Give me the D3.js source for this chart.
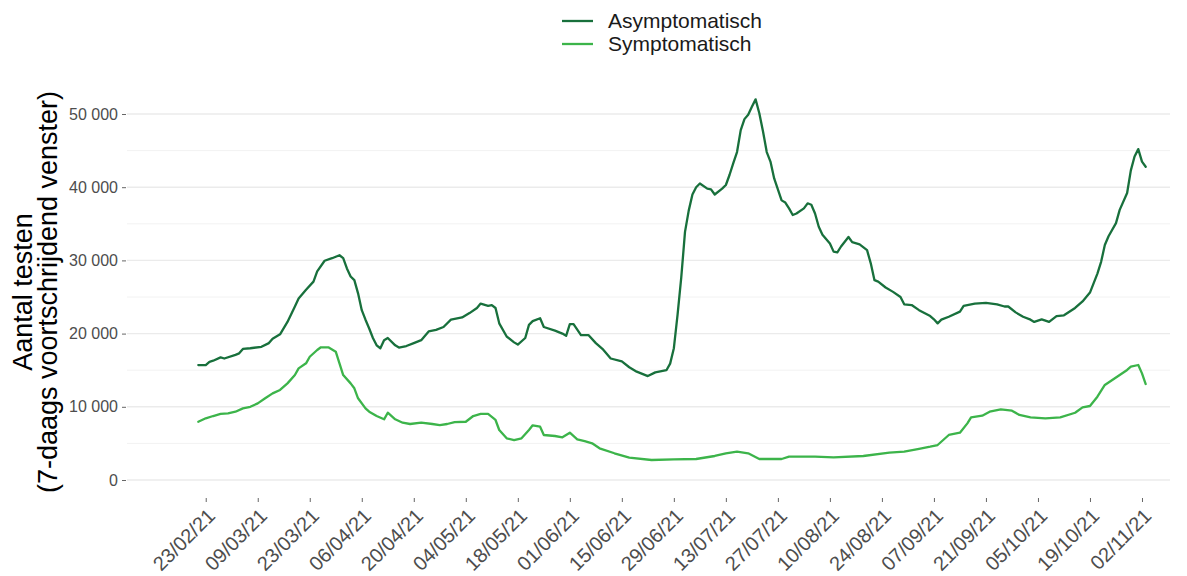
<!DOCTYPE html>
<html>
<head>
<meta charset="utf-8">
<script src="https://cdn.jsdelivr.net/npm/d3@7"></script>
<style>
  html, body { margin: 0; padding: 0; background: #fff; }
  svg { display: block; font-family: "Liberation Sans", Arial, sans-serif; }
</style>
</head>
<body>
<svg id="chart" width="1187" height="576"></svg>
<script>
// ---- data ----
const seriesNames = ["Asymptomatisch", "Symptomatisch"];
const seriesColors = ["#18703c", "#3cb44a"];

const asymDates = [
  "2021-02-21","2021-02-23","2021-02-24","2021-02-25","2021-02-27","2021-02-28","2021-03-03","2021-03-04","2021-03-05","2021-03-07",
  "2021-03-10","2021-03-12","2021-03-13","2021-03-15","2021-03-17","2021-03-19","2021-03-20","2021-03-22","2021-03-24","2021-03-25",
  "2021-03-27","2021-03-29","2021-03-31","2021-04-01","2021-04-02","2021-04-03","2021-04-04","2021-04-05","2021-04-06","2021-04-07",
  "2021-04-08","2021-04-09","2021-04-10","2021-04-11","2021-04-12","2021-04-13","2021-04-15","2021-04-16","2021-04-18","2021-04-20",
  "2021-04-22","2021-04-24","2021-04-26","2021-04-28","2021-04-30","2021-05-03","2021-05-05","2021-05-07","2021-05-08","2021-05-10",
  "2021-05-11","2021-05-12","2021-05-13","2021-05-15","2021-05-17","2021-05-18","2021-05-20","2021-05-21","2021-05-22","2021-05-24",
  "2021-05-25","2021-05-28","2021-05-30","2021-05-31","2021-06-01","2021-06-02","2021-06-04","2021-06-06","2021-06-08","2021-06-10",
  "2021-06-12","2021-06-15","2021-06-17","2021-06-19","2021-06-20","2021-06-22","2021-06-24","2021-06-27","2021-06-28","2021-06-29",
  "2021-06-30","2021-07-01","2021-07-02","2021-07-03","2021-07-04","2021-07-05","2021-07-06","2021-07-08","2021-07-09","2021-07-10",
  "2021-07-12","2021-07-13","2021-07-14","2021-07-15","2021-07-16","2021-07-17","2021-07-18","2021-07-19","2021-07-20","2021-07-21",
  "2021-07-22","2021-07-23","2021-07-24","2021-07-25","2021-07-26","2021-07-28","2021-07-29","2021-07-30","2021-07-31","2021-08-01",
  "2021-08-03","2021-08-04","2021-08-05","2021-08-06","2021-08-07","2021-08-08","2021-08-10","2021-08-11","2021-08-12","2021-08-13",
  "2021-08-15","2021-08-16","2021-08-18","2021-08-20","2021-08-21","2021-08-22","2021-08-23","2021-08-25","2021-08-27","2021-08-29",
  "2021-08-30","2021-09-01","2021-09-03","2021-09-06","2021-09-07","2021-09-08","2021-09-09","2021-09-11","2021-09-14","2021-09-15",
  "2021-09-18","2021-09-21","2021-09-24","2021-09-26","2021-09-27","2021-09-29","2021-10-01","2021-10-03","2021-10-04","2021-10-06",
  "2021-10-08","2021-10-10","2021-10-12","2021-10-15","2021-10-17","2021-10-19","2021-10-21","2021-10-22","2021-10-23","2021-10-24",
  "2021-10-26","2021-10-27","2021-10-29","2021-10-30","2021-10-31","2021-11-01","2021-11-02","2021-11-03"
];
const asymValues = [
  15700,15700,16150,16300,16750,16600,17100,17300,17900,18000,
  18200,18700,19300,19900,21600,23700,24800,26000,27100,28500,
  29950,30300,30700,30300,28900,27800,27300,25500,23200,21900,
  20700,19400,18400,18000,19100,19400,18400,18100,18300,18700,
  19100,20300,20500,20900,21900,22200,22800,23500,24100,23800,
  23900,23500,21400,19600,18800,18500,19400,21200,21700,22100,
  20900,20400,20000,19700,21300,21300,19800,19800,18700,17800,
  16600,16200,15400,14800,14600,14200,14700,15000,15900,18000,
  22600,27700,33900,36800,39000,40000,40500,39800,39700,39000,
  39800,40300,41700,43300,44800,47800,49300,49900,51000,52000,
  50100,47600,44800,43500,41200,38200,37900,37100,36200,36400,
  37100,37800,37600,36400,34600,33500,32300,31200,31100,31900,
  33200,32500,32200,31400,29600,27300,27100,26300,25700,25000,
  24000,23900,23200,22400,21950,21400,21900,22300,23000,23800,
  24100,24200,24000,23700,23700,22900,22300,21900,21600,21950,
  21600,22400,22500,23500,24400,25600,28200,29800,32100,33300,
  35100,36900,39200,42300,44200,45200,43500,42800
];

const sympDates = [
  "2021-02-21","2021-02-23","2021-02-25","2021-02-27","2021-03-01","2021-03-03","2021-03-05","2021-03-07","2021-03-09","2021-03-11",
  "2021-03-13","2021-03-15","2021-03-17","2021-03-19","2021-03-20","2021-03-22","2021-03-23","2021-03-25","2021-03-26","2021-03-28",
  "2021-03-30","2021-03-31","2021-04-01","2021-04-03","2021-04-04","2021-04-05","2021-04-07","2021-04-08","2021-04-10","2021-04-12",
  "2021-04-13","2021-04-15","2021-04-17","2021-04-19","2021-04-22","2021-04-25","2021-04-27","2021-04-29","2021-05-01","2021-05-04",
  "2021-05-06","2021-05-08","2021-05-10","2021-05-12","2021-05-13","2021-05-15","2021-05-17","2021-05-19","2021-05-21","2021-05-22",
  "2021-05-24","2021-05-25","2021-05-28","2021-05-30","2021-06-01","2021-06-03","2021-06-05","2021-06-07","2021-06-09","2021-06-13",
  "2021-06-17","2021-06-23","2021-06-29","2021-07-05","2021-07-10","2021-07-13","2021-07-16","2021-07-19","2021-07-22","2021-07-28",
  "2021-07-30","2021-08-06","2021-08-11","2021-08-19","2021-08-26","2021-08-30","2021-09-03","2021-09-06","2021-09-08","2021-09-11",
  "2021-09-14","2021-09-16","2021-09-17","2021-09-20","2021-09-22","2021-09-25","2021-09-28","2021-09-30","2021-10-03","2021-10-07",
  "2021-10-11","2021-10-15","2021-10-17","2021-10-19","2021-10-21","2021-10-23","2021-10-25","2021-10-27","2021-10-29","2021-10-30",
  "2021-11-01","2021-11-02","2021-11-03"
];
const sympValues = [
  7960,8430,8740,9020,9110,9330,9790,10000,10470,11160,
  11840,12300,13200,14340,15250,15940,16840,17760,18130,18130,
  17530,15940,14340,13200,12530,11160,9790,9330,8740,8290,
  9190,8290,7830,7650,7830,7650,7510,7650,7920,7960,
  8740,9020,9020,8200,6830,5690,5460,5690,6830,7470,
  7280,6150,6010,5830,6460,5560,5300,5010,4330,3650,
  3050,2730,2820,2870,3280,3650,3870,3650,2870,2870,
  3180,3180,3100,3280,3730,3870,4250,4550,4780,6150,
  6460,7740,8560,8790,9330,9650,9470,8880,8560,8430,
  8560,9190,9930,10110,11380,12980,13660,14340,15030,15480,
  15710,14570,13110
];

const xTickDates = [
  "2021-02-23","2021-03-09","2021-03-23","2021-04-06","2021-04-20","2021-05-04","2021-05-18","2021-06-01","2021-06-15","2021-06-29",
  "2021-07-13","2021-07-27","2021-08-10","2021-08-24","2021-09-07","2021-09-21","2021-10-05","2021-10-19","2021-11-02"
];
const yTickValues = [0, 10000, 20000, 30000, 40000, 50000];
const yMinorValues = [5000, 15000, 25000, 35000, 45000];
const yTitleLines = ["Aantal testen", "(7-daags voortschrijdend venster)"];

// ---- setup ----
const parse = d3.timeParse("%Y-%m-%d");
const fmtTick = d3.timeFormat("%d/%m/%y");
const locale = d3.formatLocale({ decimal: ",", thousands: " ", grouping: [3], currency: ["", ""] });
const fmtY = locale.format(",");

const series = [
  { name: seriesNames[0], color: seriesColors[0], points: asymDates.map((d, i) => ({ date: parse(d), value: asymValues[i] })) },
  { name: seriesNames[1], color: seriesColors[1], points: sympDates.map((d, i) => ({ date: parse(d), value: sympValues[i] })) }
];

const panel = { left: 127, right: 1170, top: 80, bottom: 499 };

const allDates = series.flatMap(s => s.points.map(p => p.date));
const x = d3.scaleTime().domain(d3.extent(allDates)).range([198.3, 1145.7]);
const y = d3.scaleLinear().domain([0, 50000]).range([480, 114]);

const svg = d3.select("#chart");

// gridlines
const grid = svg.append("g");
grid.selectAll("line.minor").data(yMinorValues).join("line")
  .attr("class", "minor")
  .attr("x1", panel.left).attr("x2", panel.right)
  .attr("y1", d => y(d)).attr("y2", d => y(d))
  .attr("stroke", "#f2f2f2").attr("stroke-width", 1);
grid.selectAll("line.major").data(yTickValues).join("line")
  .attr("class", "major")
  .attr("x1", panel.left).attr("x2", panel.right)
  .attr("y1", d => y(d)).attr("y2", d => y(d))
  .attr("stroke", "#ebebeb").attr("stroke-width", 1.4);

// y axis
const yAxis = d3.axisLeft(y).tickValues(yTickValues).tickFormat(fmtY).tickSize(4).tickPadding(4);
const gy = svg.append("g").attr("transform", `translate(${panel.left - 1},0)`).call(yAxis);
gy.select(".domain").remove();
gy.selectAll(".tick line").attr("stroke", "#555").attr("stroke-width", 0.9);
gy.selectAll(".tick text").attr("fill", "#4d4d4d").style("font-size", "16px")
  .style("font-family", "'Liberation Sans', Arial, sans-serif");

// x axis
const xAxis = d3.axisBottom(x).tickValues(xTickDates.map(parse)).tickFormat(fmtTick).tickSize(4).tickPadding(3);
const gx = svg.append("g").attr("transform", `translate(0,${panel.bottom - 1})`).call(xAxis);
gx.select(".domain").remove();
gx.selectAll(".tick line").attr("stroke", "#555").attr("stroke-width", 0.9);
gx.selectAll(".tick text")
  .attr("fill", "#4d4d4d")
  .style("font-size", "20px")
  .style("font-family", "'Liberation Sans', Arial, sans-serif")
  .attr("text-anchor", "end")
  .attr("y", 0).attr("dy", "0.71em")
  .attr("transform", "translate(0,9) rotate(-45)");

// lines
const line = d3.line().x(d => x(d.date)).y(d => y(d.value)).curve(d3.curveLinear);
svg.append("g").selectAll("path").data(series).join("path")
  .attr("d", d => line(d.points))
  .attr("fill", "none")
  .attr("stroke", d => d.color)
  .attr("stroke-width", 2.3)
  .attr("stroke-linejoin", "round")
  .attr("stroke-linecap", "round");

// y title
const yTitle = svg.append("text")
  .attr("transform", "translate(32,292) rotate(-90)")
  .attr("text-anchor", "middle")
  .attr("fill", "#000")
  .style("font-size", "27px");
yTitle.selectAll("tspan").data(yTitleLines).join("tspan")
  .attr("x", 0)
  .attr("dy", (d, i) => i === 0 ? 0 : 25)
  .text(d => d);

// legend
const legend = svg.append("g").attr("transform", "translate(562,21)");
const items = legend.selectAll("g").data(series).join("g")
  .attr("transform", (d, i) => `translate(0,${i * 23})`);
items.append("line")
  .attr("x1", 0).attr("x2", 31).attr("y1", 0).attr("y2", 0)
  .attr("stroke", d => d.color).attr("stroke-width", 2.3);
items.append("text")
  .attr("x", 46).attr("y", 0).attr("dy", "0.35em")
  .attr("fill", "#1a1a1a")
  .style("font-size", "21px")
  .text(d => d.name);
</script>
</body>
</html>
